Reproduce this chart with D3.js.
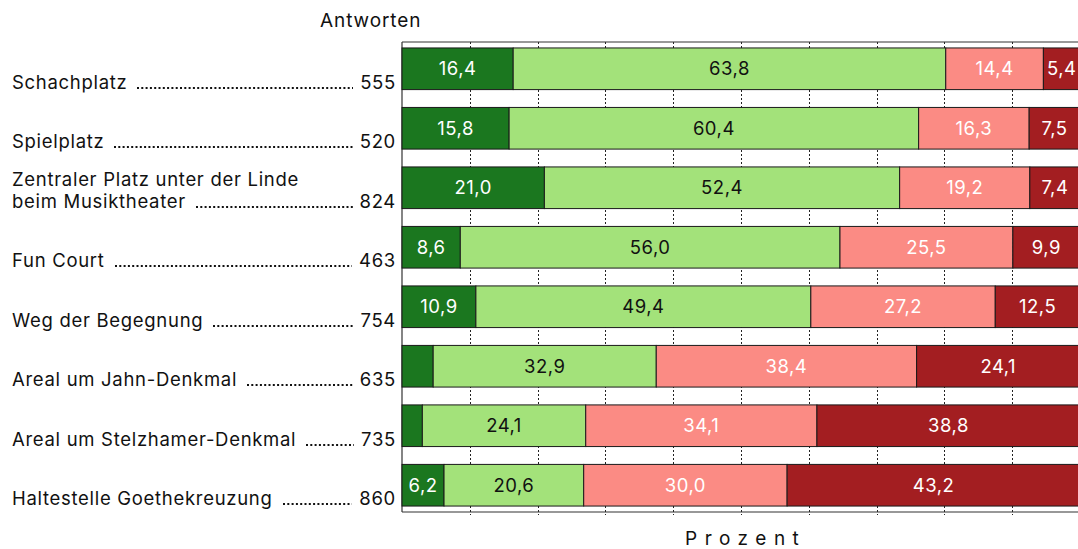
<!DOCTYPE html>
<html>
<head>
<meta charset="utf-8">
<script src="https://cdn.jsdelivr.net/npm/d3@7"></script>
<style>
  body { margin: 0; background: #fff; }
  svg text { font-family: Inter, "Liberation Sans", sans-serif; }
</style>
</head>
<body>
<div id="chart"></div>
<script>
// places and number of answers
var places = ["Schachplatz", "Spielplatz", "Zentraler Platz unter der Linde|beim Musiktheater",
  "Fun Court", "Weg der Begegnung", "Areal um Jahn-Denkmal", "Areal um Stelzhamer-Denkmal",
  "Haltestelle Goethekreuzung"]
var answers = [555, 520, 824, 463, 754, 635, 735, 860]

// percentages per answer group (left to right)
var veryGood = [16.4, 15.8, 21.0, 8.6, 10.9, 4.6, 3.0, 6.2]
var good     = [63.8, 60.4, 52.4, 56.0, 49.4, 32.9, 24.1, 20.6]
var bad      = [14.4, 16.3, 19.2, 25.5, 27.2, 38.4, 34.1, 30.0]
var veryBad  = [5.4, 7.5, 7.4, 9.9, 12.5, 24.1, 38.8, 43.2]

// which segments get a value label
var minLabel = 5

var keys = ["veryGood", "good", "bad", "veryBad"]
var colours = ["#1b771f", "#a3e27a", "#fb8b84", "#a31e21"]
var textColours = ["#fff", "#111", "#fff", "#fff"]

var w = 1078, h = 549
// (don't call these top/left - window.top is read only)
var plotL = 402, plotR = 1080, plotT = 42, plotB = 512
var fs = 18.5, ls = 0.7

var svg = d3.select("#chart").append("svg")
  .attr("width", w)
  .attr("height", h)

// build table for stack
var table = places.map(function(p, i) {
  return {place: p, n: answers[i], veryGood: veryGood[i], good: good[i], bad: bad[i], veryBad: veryBad[i]}
})
var series = d3.stack().keys(keys)(table)

var x = d3.scaleLinear().domain([0, 100]).range([plotL, plotR])
var y = d3.scaleBand().domain(places).range([plotT, plotB])
  .paddingInner(0.3).paddingOuter(0.1)

// dotted grid lines
svg.append("g").selectAll("line")
  .data(d3.range(10, 100, 10))
  .enter().append("line")
  .attr("x1", function(d) { return Math.round(x(d)) + 0.5 })
  .attr("x2", function(d) { return Math.round(x(d)) + 0.5 })
  .attr("y1", plotT)
  .attr("y2", plotB + 3)
  .attr("stroke", "#222")
  .attr("stroke-width", 1)
  .attr("stroke-dasharray", "2,2")

// frame
var frame = svg.append("g").attr("stroke", "#333").attr("stroke-width", 1.2)
frame.append("line").attr("x1", plotL).attr("x2", w).attr("y1", plotT).attr("y2", plotT)
frame.append("line").attr("x1", plotL).attr("x2", w).attr("y1", plotB).attr("y2", plotB)
frame.append("line").attr("x1", plotL).attr("x2", plotL).attr("y1", plotT).attr("y2", plotB)

// bars
var groups = svg.append("g").selectAll("g")
  .data(series)
  .enter().append("g")

groups.selectAll("rect")
  .data(function(s, k) { return s.map(function(d) { d.k = k; return d }) })
  .enter().append("rect")
  .attr("x", function(d) { return x(d[0]) })
  .attr("y", function(d) { return y(d.data.place) })
  .attr("width", function(d) { return x(d[1]) - x(d[0]) })
  .attr("height", y.bandwidth())
  .attr("fill", function(d) { return colours[d.k] })
  .attr("stroke", "#1a1a1a")
  .attr("stroke-width", 1)

groups.selectAll("text")
  .data(function(s, k) { return s.filter(function(d) { return d[1] - d[0] >= minLabel }) })
  .enter().append("text")
  .attr("x", function(d) { return (x(d[0]) + x(d[1])) / 2 })
  .attr("y", function(d) { return y(d.data.place) + y.bandwidth() / 2 + 6.5 })
  .attr("text-anchor", "middle")
  .attr("font-size", fs)
  .attr("letter-spacing", 0.5)
  .attr("fill", function(d) { return textColours[d.k] })
  .text(function(d) { return d3.format(".1f")(d[1] - d[0]).replace(".", ",") })

// row labels with leader dots
var labels = svg.append("g").selectAll("g")
  .data(table)
  .enter().append("g")

labels.each(function(d) {
  var g = d3.select(this)
  var base = y(d.place) + y.bandwidth() - 1
  var lines = d.place.split("|")
  lines.forEach(function(l, i) {
    g.append("text")
      .attr("class", i == lines.length - 1 ? "last" : "")
      .attr("x", 12)
      .attr("y", base - (lines.length - 1 - i) * 22)
      .attr("font-size", fs)
      .attr("letter-spacing", ls)
      .attr("fill", "#111")
      .text(l)
  })
  var num = g.append("text")
    .attr("x", 396)
    .attr("y", base)
    .attr("text-anchor", "end")
    .attr("font-size", fs)
    .attr("letter-spacing", ls)
    .attr("fill", "#111")
    .text(d.n)
  var nameEnd = 12 + g.select("text.last").node().getComputedTextLength()
  var numStart = 396 - num.node().getComputedTextLength()
  // leader dots, snapped to whole pixels so they stay crisp
  var dy = Math.round(base) - 1
  g.append("line")
    .attr("x1", Math.round(nameEnd + 10))
    .attr("x2", Math.round(numStart - 7))
    .attr("y1", dy)
    .attr("y2", dy)
    .attr("stroke", "#111")
    .attr("stroke-width", 2)
    .attr("stroke-dasharray", "2,2.3")
})

// titles
svg.append("text")
  .attr("x", 320).attr("y", 27)
  .attr("font-size", 19)
  .attr("letter-spacing", 0.9)
  .attr("fill", "#111")
  .text("Antworten")

svg.append("text")
  .attr("x", 685).attr("y", 545)
  .attr("font-size", 19)
  .attr("letter-spacing", 7.5)
  .attr("fill", "#111")
  .text("Prozent")
</script>
</body>
</html>
